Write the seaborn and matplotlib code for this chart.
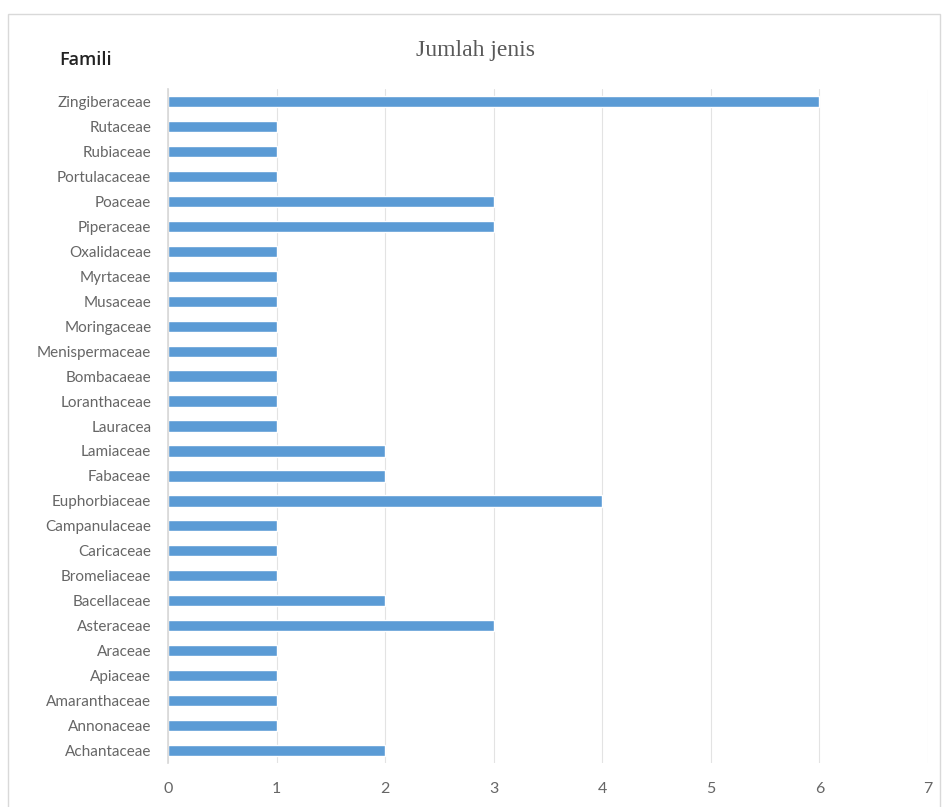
import matplotlib
matplotlib.use("Agg")
import matplotlib.pyplot as plt
import matplotlib.patches as mpatches
import seaborn as sns
import pandas as pd

families = ["Zingiberaceae", "Rutaceae", "Rubiaceae", "Portulacaceae", "Poaceae",
            "Piperaceae", "Oxalidaceae", "Myrtaceae", "Musaceae", "Moringaceae",
            "Menispermaceae", "Bombacaeae", "Loranthaceae", "Lauracea", "Lamiaceae",
            "Fabaceae", "Euphorbiaceae", "Campanulaceae", "Caricaceae", "Bromeliaceae",
            "Bacellaceae", "Asteraceae", "Araceae", "Apiaceae", "Amaranthaceae",
            "Annonaceae", "Achantaceae"]
counts = [6, 1, 1, 1, 3, 3, 1, 1, 1, 1, 1, 1, 1, 1, 2, 2, 4, 1, 1, 1, 2, 3, 1, 1, 1, 1, 2]
x_ticks = [0, 1, 2, 3, 4, 5, 6, 7]

df = pd.DataFrame({"Famili": families, "Jumlah": counts})

sns.set_theme(style="white")
plt.rcParams["font.family"] = ["Liberation Sans Narrow", "Lato", "DejaVu Sans"]

fig = plt.figure(figsize=(9.46, 8.07), dpi=100)
ax = fig.add_axes([0.1776, 0.0545, 0.8034, 0.8352])

sns.barplot(data=df, x="Jumlah", y="Famili", orient="h", color="#5B9BD5",
            width=0.45, saturation=1, ax=ax)

ax.set_xlim(0, 7)
ax.set_ylim(len(families) - 0.5, -0.5)
ax.set_xticks(x_ticks)
ax.xaxis.grid(True, color="#e3e3e3", linewidth=0.8)
ax.set_axisbelow(True)
for s in ax.spines.values():
    s.set_visible(False)
ax.spines["left"].set_visible(True)
ax.spines["left"].set_color("#d9d9d9")
ax.set_xlabel("")
ax.set_ylabel("")
ax.tick_params(axis="y", labelsize=11, colors="#666666", length=0, pad=12)
ax.tick_params(axis="x", labelsize=11.5, colors="#666666", length=0, pad=14)

fig.text(0.503, 0.938, "Jumlah jenis", ha="center", va="center",
         family=["Liberation Serif", "DejaVu Serif"], fontsize=17, color="#595959")
fig.text(0.09, 0.926, "Famili", ha="center", va="center",
         family=["Open Sans", "DejaVu Sans"], fontsize=13, color="#222222",
         fontweight="semibold")

fig.patches.append(mpatches.Rectangle((8 / 946, -0.01), 932 / 946, 1 - 14 / 807 + 0.01,
                                      transform=fig.transFigure, fill=False,
                                      edgecolor="#d9d9d9", linewidth=1))

fig.savefig("out.png", dpi=100, facecolor="white")
